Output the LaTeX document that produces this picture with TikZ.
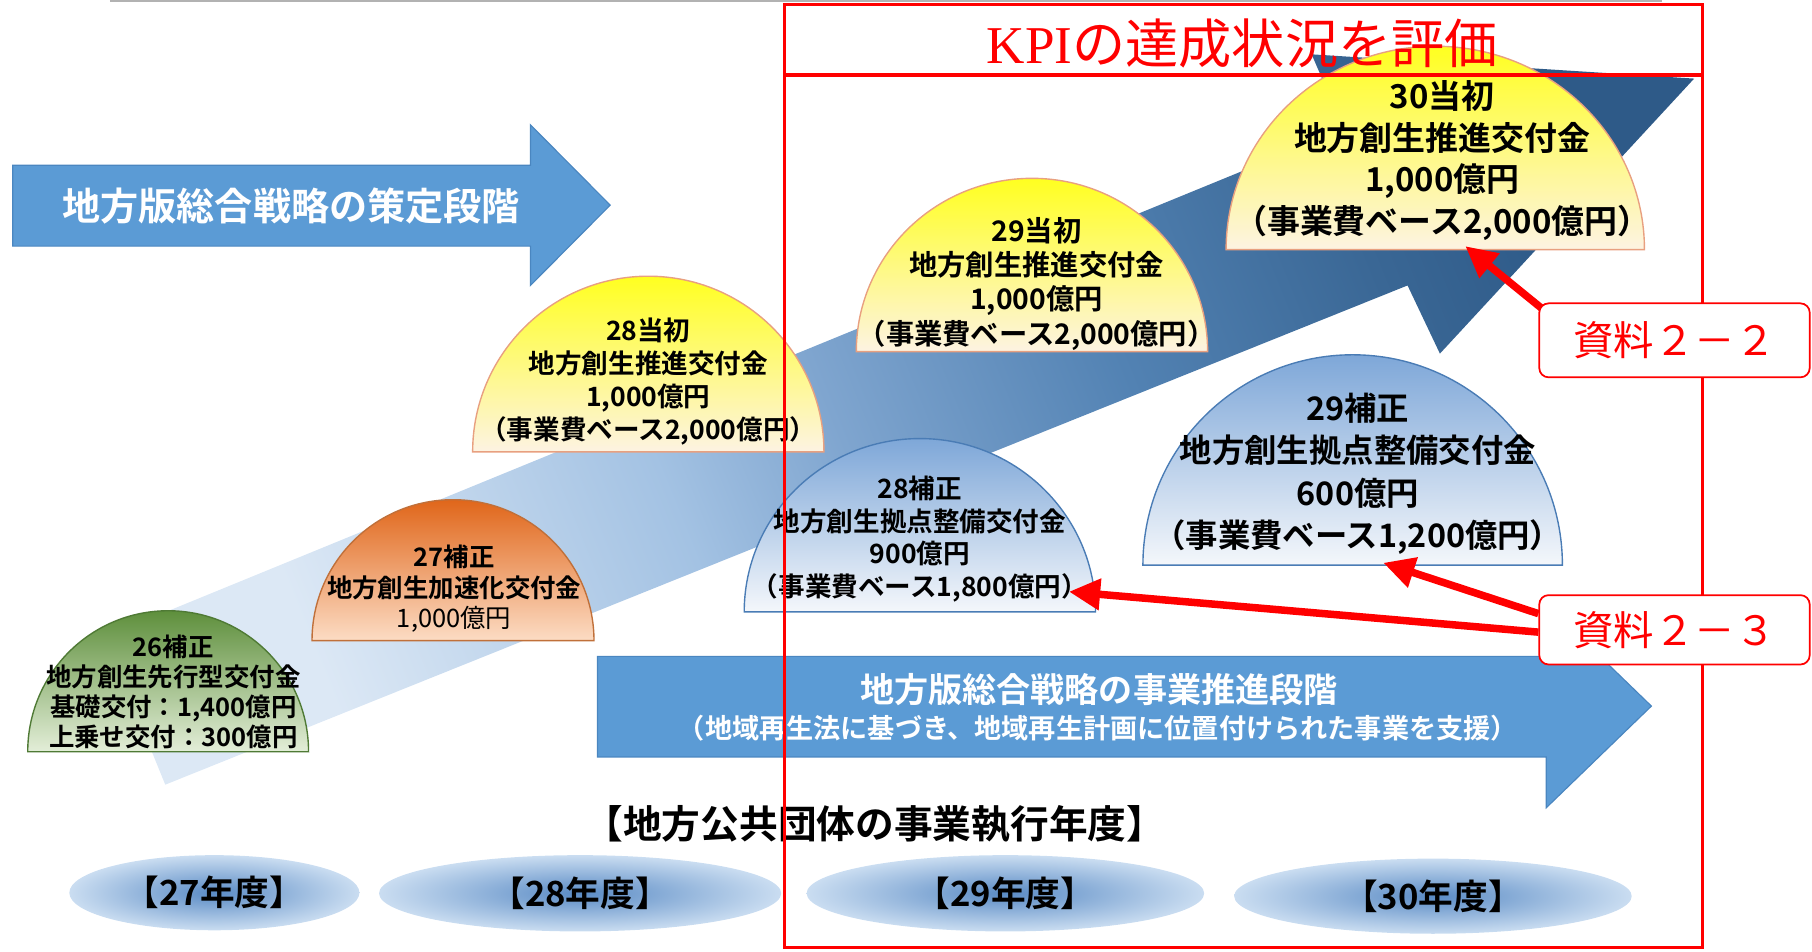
\documentclass[tikz,border=0pt]{standalone}
\usepackage{fontspec}
\setmainfont{Noto Sans CJK JP}[BoldFont={Noto Sans CJK JP Bold}]
\newfontfamily\kpifont{Liberation Serif}
\usetikzlibrary{arrows.meta,shapes.geometric}
\definecolor{arrowblue}{HTML}{5B9BD5}
\definecolor{arrowedge}{HTML}{4A86C0}
\definecolor{bandA}{HTML}{DCE8F5}
\definecolor{bandB}{HTML}{A3C2E3}
\definecolor{bandC}{HTML}{7FA5CF}
\definecolor{bandD}{HTML}{5282B3}
\definecolor{bandE}{HTML}{3A6795}
\definecolor{bandF}{HTML}{2E5A88}
\definecolor{greenT}{HTML}{5E8F3C}
\definecolor{greenB}{HTML}{E3EED8}
\definecolor{greenE}{HTML}{4F7A35}
\definecolor{orangeT}{HTML}{E0661A}
\definecolor{orangeB}{HTML}{FCDCC4}
\definecolor{orangeE}{HTML}{C0703A}
\definecolor{yellowT}{HTML}{FFFF20}
\definecolor{yellowB}{HTML}{FDF3E2}
\definecolor{yellowE}{HTML}{E8A080}
\definecolor{blueT}{HTML}{7EA7D8}
\definecolor{blueB}{HTML}{F4F7FB}
\definecolor{blueE}{HTML}{4A7CB5}
\definecolor{ellIn}{HTML}{5A8BC5}
\definecolor{ellOut}{HTML}{CADDF1}
\definecolor{kpired}{HTML}{FF0000}
\pgfdeclarehorizontalshading{bandshade}{100bp}{color(0bp)=(bandA); color(26.5bp)=(bandA); color(41bp)=(bandB); color(47.75bp)=(bandC); color(58.5bp)=(bandD); color(68.5bp)=(bandE); color(75bp)=(bandF); color(100bp)=(bandF)}
\pgfdeclarelayer{top}
\pgfsetlayers{main,top}
\newcommand{\drawdome}[5]{%
  \path[#1] ({#2-#4},{-#3}) arc[start angle=180,end angle=0,x radius=#4,y radius=#5] -- cycle;}
\begin{document}
\begin{tikzpicture}[x=1pt,y=1pt,
  dometext/.style={align=center,inner sep=0pt,text=black},
  phasearrow/.style={fill=arrowblue,draw=arrowedge,line width=1pt},
  phasetext/.style={text=white,align=center,inner sep=0pt},
  yearell/.style={ellipse,inner sep=0pt,inner color=ellIn,outer color=ellOut,font=\fontsize{30}{34}\selectfont\bfseries},
  refbox/.style={draw=kpired,fill=white,line width=1.5pt,rounded corners=8pt,text=kpired,inner sep=0pt,font=\fontsize{35}{40}\selectfont},
  refarrow/.style={draw=kpired,line width=6.5pt,-{Triangle[length=27pt,width=26pt]}},
  kpiframe/.style={draw=kpired,line width=3pt},
  greendome/.style={draw=greenE,line width=1.2pt,top color=greenT,bottom color=greenB},
  orangedome/.style={draw=orangeE,line width=1.2pt,top color=orangeT,bottom color=orangeB},
  yellowdome/.style={draw=yellowE,line width=1.2pt,top color=yellowT,bottom color=yellowB},
  bluedome/.style={draw=blueE,line width=1.2pt,top color=blueT,bottom color=blueB}
]
\useasboundingbox (0,0) rectangle (1568,-823);
% top grey rule
\draw[gray!60,line width=2pt] (95,-1) -- (1438,-1);
% big rising band arrow
\shade[shading=bandshade,shading angle=22] (143,-679) -- (91,-551) -- (1163,-112) -- (1135,-47) -- (1466,-68) -- (1246,-306) -- (1218,-247) -- cycle;
% planning-phase arrow
\path[phasearrow] (11,-143) -- (459,-143) -- (459,-108) -- (528,-177.5) -- (459,-247) -- (459,-213) -- (11,-213) -- cycle;
\node[phasetext,font=\fontsize{33}{36}\selectfont\bfseries] (plan) at (252,-178) {地方版総合戦略の策定段階};
% domes
\drawdome{greendome}{145.5}{650.5}{121.5}{122}
\node[dometext,font=\fontsize{22}{26}\selectfont\bfseries] (d26) at (150,-599) {26補正\\地方創生先行型交付金\\基礎交付：1,400億円\\上乗せ交付：300億円};
\drawdome{orangedome}{392}{554.4}{122}{122}
\node[dometext,font=\fontsize{22}{26.5}\selectfont\bfseries] (d27) at (393,-509.5) {27補正\\地方創生加速化交付金\\{\mdseries 1,000億円}};
\drawdome{yellowdome}{561}{391}{152}{152}
\node[dometext,font=\fontsize{23}{28.7}\selectfont\bfseries] (d28a) at (561,-330) {28当初\\地方創生推進交付金\\1,000億円\\（事業費ベース2,000億円）};
\drawdome{bluedome}{796}{529.5}{152}{150}
\node[dometext,font=\fontsize{23}{28.3}\selectfont\bfseries] (d28b) at (796,-466.5) {28補正\\地方創生拠点整備交付金\\900億円\\（事業費ベース1,800億円）};
\drawdome{yellowdome}{893}{304.3}{152}{150}
\node[dometext,font=\fontsize{24.5}{29.7}\selectfont\bfseries] (d29a) at (897,-245.5) {29当初\\地方創生推進交付金\\1,000億円\\（事業費ベース2,000億円）};
\drawdome{bluedome}{1170.5}{489}{181.5}{182}
\node[dometext,font=\fontsize{28}{36.5}\selectfont\bfseries] (d29b) at (1175,-410) {29補正\\地方創生拠点整備交付金\\600億円\\（事業費ベース1,200億円）};
\drawdome{yellowdome}{1242}{216}{181}{176}
\node[dometext,font=\fontsize{28.5}{36}\selectfont\bfseries] (d30a) at (1248,-139) {30当初\\地方創生推進交付金\\1,000億円\\（事業費ベース2,000億円）};
% promotion-phase arrow
\path[phasearrow] (517,-568) -- (1338,-568) -- (1338,-523) -- (1429,-611) -- (1338,-699) -- (1338,-655) -- (517,-655) -- cycle;
\node[phasetext,font=\fontsize{29.5}{33}\selectfont\bfseries] (promo1) at (951,-597) {地方版総合戦略の事業推進段階};
\node[phasetext,font=\fontsize{23.5}{27}\selectfont\bfseries] (promo2) at (950,-630) {（地域再生法に基づき、地域再生計画に位置付けられた事業を支援）};
% fiscal years
\node[text=black,inner sep=0pt,font=\fontsize{33.5}{37}\selectfont\bfseries] (exec) at (757,-713) {【地方公共団体の事業執行年度】};
\node[yearell,minimum width=251pt,minimum height=65pt] (y27) at (185.5,-772.5) {【27年度】};
\node[yearell,minimum width=348pt,minimum height=66pt] (y28) at (502,-773) {【28年度】};
\node[yearell,minimum width=344pt,minimum height=66pt] (y29) at (870,-773) {【29年度】};
\node[yearell,minimum width=344pt,minimum height=65pt] (y30) at (1240,-775.5) {【30年度】};
% KPI evaluation frame
\draw[kpiframe] (679,-4) rectangle (1473,-820);
\draw[kpiframe] (679,-65) -- (1473,-65);
\node[text=kpired,inner sep=0pt,font=\fontsize{46}{50}\selectfont] (title) at (1075,-38) {{\kpifont KPI}の達成状況を評価};
% reference boxes (top layer)
\begin{pgfonlayer}{top}
\node[refbox,minimum width=234pt,minimum height=64pt] (s22) at (1449,-294.5) {資料２－２};
\node[refbox,minimum width=234pt,minimum height=60pt] (s23) at (1449,-545) {資料２－３};
\end{pgfonlayer}
\coordinate (t22) at (1268,-213);
\coordinate (t23a) at (1197,-487);
\coordinate (t23b) at (925,-512);
\draw[refarrow] ([xshift=4pt,yshift=-6pt]s22.north west) -- (t22);
\draw[refarrow] ([yshift=14pt]s23.west) -- (t23a);
\draw[refarrow] ([yshift=-2pt]s23.west) -- (t23b);
\end{tikzpicture}
\end{document}
